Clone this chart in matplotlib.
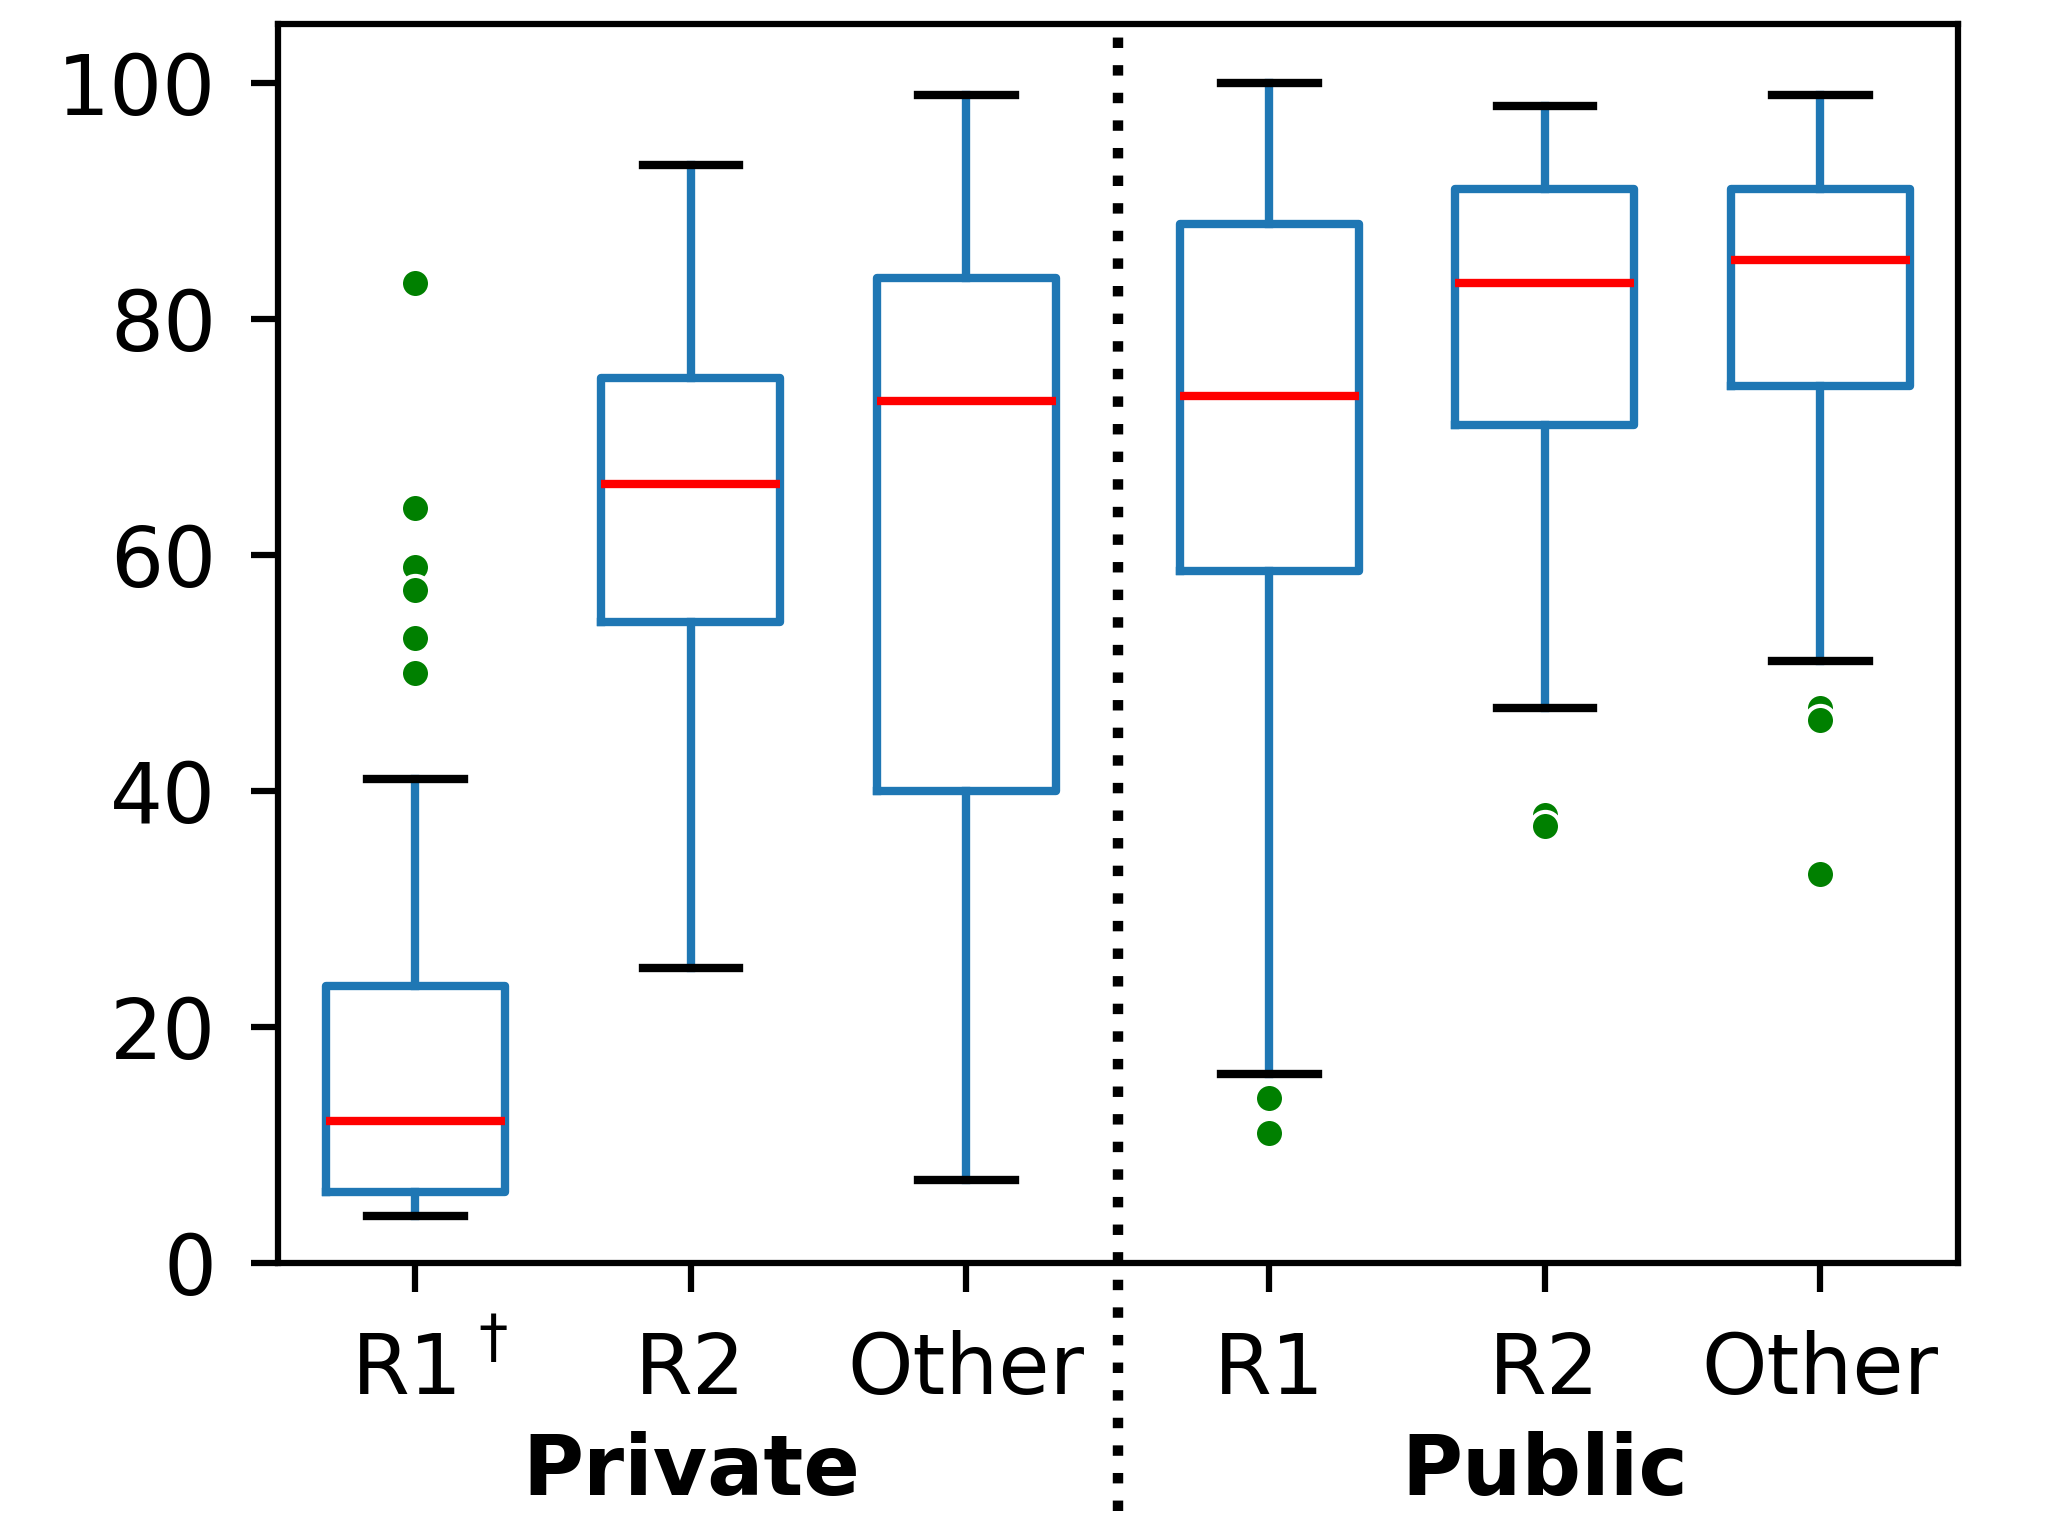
import matplotlib
matplotlib.use("Agg")
import matplotlib.pyplot as plt
from matplotlib.transforms import ScaledTranslation

# box statistics (percent)
labels = ["R1", "R2", "Other", "R1", "R2", "Other"]
positions = [1, 2, 3, 4.1, 5.1, 6.1]
whislo = [4, 25, 7, 16, 47, 51]
q1 = [6, 54.3, 40, 58.6, 71, 74.3]
med = [12, 66, 73, 73.5, 83, 85]
q3 = [23.5, 75, 83.5, 88, 91, 91]
whishi = [41, 93, 99, 100, 98, 99]
fliers = [
    [83, 64, 59, 57, 53, 50],
    [],
    [],
    [14, 11],
    [38, 37],
    [47, 46, 33],
]
groups = ["Private", "Public"]
group_pos = [2, 5.1]
divider = 3.55

stats = []
for i in range(len(labels)):
    stats.append(dict(whislo=whislo[i], q1=q1[i], med=med[i], q3=q3[i],
                      whishi=whishi[i], fliers=fliers[i]))

fig = plt.figure(figsize=(2072 / 300, 1531 / 300), dpi=300)
ax = fig.add_axes([0.134, 0.175, 0.811, 0.8095])

blue = "#1f77b4"
ax.bxp(stats, positions=positions, widths=0.65, showfliers=True,
       boxprops=dict(color=blue, linewidth=2),
       whiskerprops=dict(color=blue, linewidth=2),
       capprops=dict(color="black", linewidth=2),
       medianprops=dict(color="red", linewidth=2),
       flierprops=dict(marker="o", markerfacecolor="green",
                       markeredgecolor="white", markeredgewidth=1,
                       markersize=7, linestyle="none"),
       capwidths=0.35)

ax.set_xlim(0.5, 6.6)
ax.set_ylim(0, 105)
ax.set_yticks([0, 20, 40, 60, 80, 100])
ax.set_xticks(positions)
ax.set_xticklabels(labels)

for s in ax.spines.values():
    s.set_linewidth(1.5)
ax.tick_params(axis="both", labelsize=20, width=1.5)
ax.tick_params(axis="x", length=7, pad=9)
ax.tick_params(axis="y", length=6.5, pad=8.2)

# first label sits a little left, dagger note next to it
lab0 = ax.get_xticklabels()[0]
lab0.set_transform(lab0.get_transform() + ScaledTranslation(-2 / 72, 0, fig.dpi_scale_trans))
ax.text(1.28, -0.062, "\u2020", transform=ax.get_xaxis_transform(), ha="center",
        va="center", fontsize=14)

ax.axvline(divider, ymin=-0.2, ymax=1, color="black", linestyle=":",
           linewidth=2.5, clip_on=False)

for g, x in zip(groups, group_pos):
    ax.text(x, -0.168, g, transform=ax.get_xaxis_transform(), ha="center",
            va="center", fontsize=20, fontweight="bold")

fig.savefig("out.png", dpi=300)
